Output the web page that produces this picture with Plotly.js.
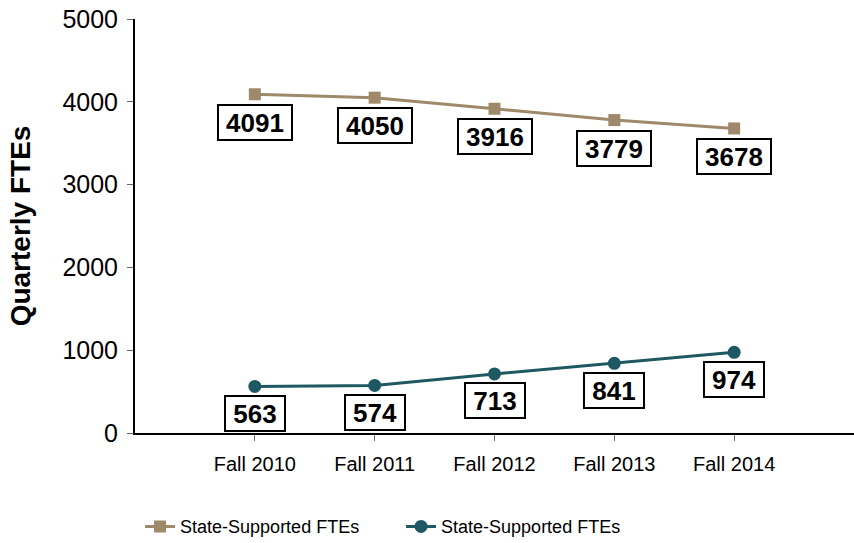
<!DOCTYPE html>
<html>
<head>
<meta charset="utf-8">
<script src="https://cdn.plot.ly/plotly-3.0.1.min.js"></script>
<style>html,body{margin:0;padding:0;background:#fff;}#chart{width:854px;height:543px;}</style>
</head>
<body>
<div id="chart"></div>
<script>
var categories = ["Fall 2010", "Fall 2011", "Fall 2012", "Fall 2013", "Fall 2014"];
var seriesA = [4091, 4050, 3916, 3779, 3678];
var seriesB = [563, 574, 713, 841, 974];
var seriesNames = ["State-Supported FTEs", "State-Supported FTEs"];
var yTicks = [0, 1000, 2000, 3000, 4000, 5000];

var colA = "#9E896A";
var colB = "#1E5862";

var traces = [
  {x: categories, y: seriesA, name: seriesNames[0], type: "scatter", mode: "lines+markers",
   line: {color: colA, width: 3}, marker: {symbol: "square", size: 12, color: colA}},
  {x: categories, y: seriesB, name: seriesNames[1], type: "scatter", mode: "lines+markers",
   line: {color: colB, width: 3}, marker: {symbol: "circle", size: 13, color: colB}}
];

var annotations = [];
function addLabels(vals, shift) {
  vals.forEach(function (v, i) {
    var digits = String(v).length;
    annotations.push({
      x: categories[i], y: v, xref: "x", yref: "y", text: "<b>" + v + "</b>",
      showarrow: false, yshift: shift, font: {family: "Liberation Sans, Arial, sans-serif", size: 26, color: "#000"},
      width: digits * 14 + 10, height: 27,
      bordercolor: "#000", borderwidth: 2, borderpad: 3, bgcolor: "#fff"
    });
  });
}
addLabels(seriesA, -28);
addLabels(seriesB, -27);

var layout = {
  width: 854, height: 543,
  margin: {l: 135, r: 0, t: 19, b: 110, autoexpand: false},
  paper_bgcolor: "#fff", plot_bgcolor: "#fff",
  font: {family: "Liberation Sans, Arial, sans-serif", color: "#000"},
  showlegend: true,
  legend: {orientation: "h", xref: "container", yref: "container", x: 0.164, xanchor: "left",
           y: 0.03, yanchor: "middle",
           font: {size: 18, color: "#000"}, itemwidth: 30, entrywidth: 216, entrywidthmode: "pixels"},
  xaxis: {
    type: "category", range: [-1, 5], showgrid: false, zeroline: false, automargin: false,
    showline: true, linecolor: "#000", linewidth: 2,
    ticks: "outside", ticklen: 6, tickcolor: "#666", tickwidth: 1,
    ticklabelstandoff: 6,
    tickfont: {size: 20, color: "#000"}, fixedrange: true
  },
  yaxis: {
    range: [0, 5000], tickvals: yTicks, showgrid: false, zeroline: false, automargin: false,
    showline: true, linecolor: "#000", linewidth: 2,
    ticks: "outside", ticklen: 6, tickcolor: "#666", tickwidth: 1,
    ticklabelstandoff: 4,
    tickfont: {size: 25, color: "#000"},
    title: {text: "<b>Quarterly FTEs</b>", font: {size: 28, color: "#000"}, standoff: 24}
  },
  annotations: annotations
};

Plotly.newPlot("chart", traces, layout, {displayModeBar: false, staticPlot: true});
</script>
</body>
</html>
